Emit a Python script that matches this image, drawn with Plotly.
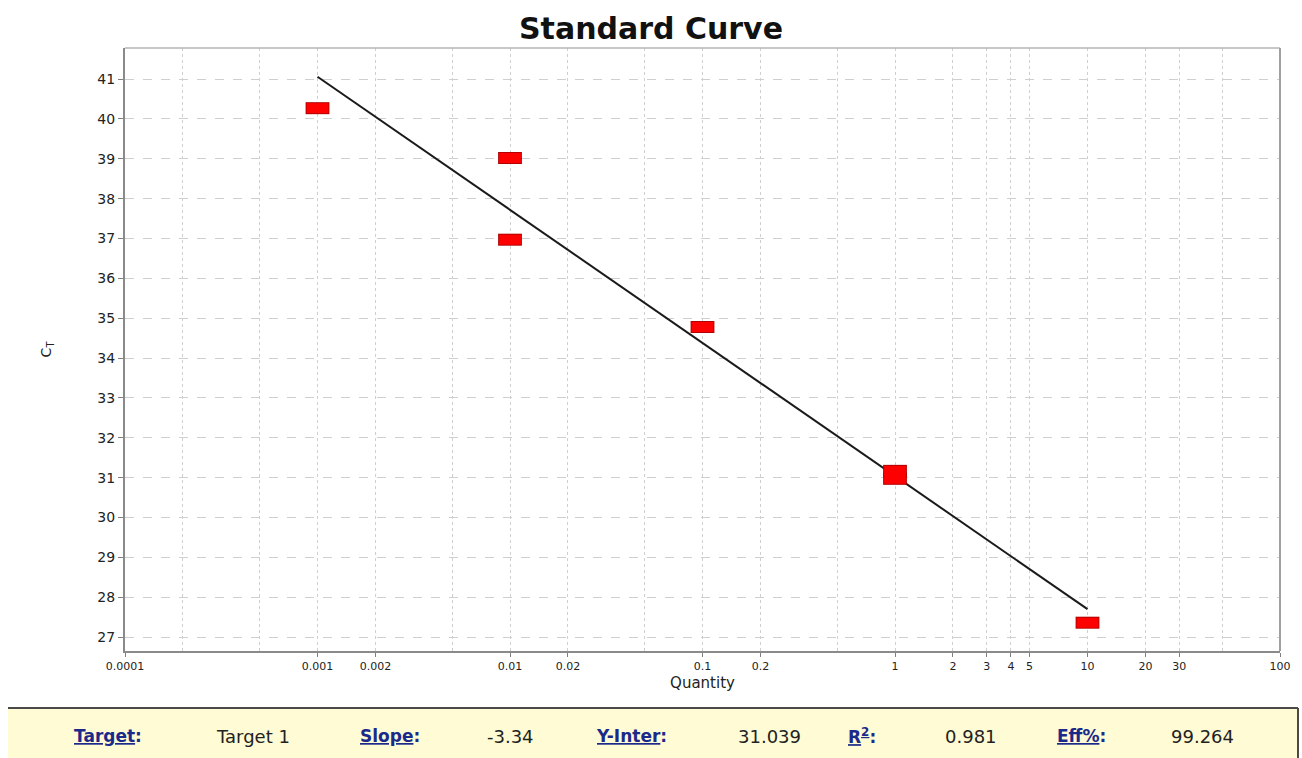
import plotly.graph_objects as go

# ---- data ----
quantity = [0.001, 0.01, 0.01, 0.1, 1, 1, 10]
ct_values = [40.27, 39.02, 36.97, 34.78, 31.17, 30.97, 27.36]
fit_x = [0.001, 10]
fit_y = [41.06, 27.70]
x_tickvals = [0.0001, 0.001, 0.002, 0.01, 0.02, 0.1, 0.2, 1, 2, 3, 4, 5, 10, 20, 30, 100]
x_ticktext = ["0.0001", "0.001", "0.002", "0.01", "0.02", "0.1", "0.2", "1", "2", "3", "4", "5", "10", "20", "30", "100"]
y_tickvals = list(range(27, 42))
stat_labels = ["Target", "Slope", "Y-Inter", "R<sup>2</sup>", "Eff%"]
stat_values = ["Target 1", "-3.34", "31.039", "0.981", "99.264"]

W, H = 1302, 758
L, R, T, B = 125, 1280, 48, 651


def px_x(p):
    return (p - L) / (R - L)


def px_y(p):
    return (B - p) / (B - T)


fig = go.Figure()

fig.add_trace(go.Scatter(
    x=fit_x, y=fit_y, mode="lines",
    line=dict(color="#1a1a1a", width=2), hoverinfo="skip", showlegend=False))

# marker outline (dark red) then fill (bright red)
fig.add_trace(go.Scatter(
    x=quantity, y=ct_values, mode="markers", showlegend=False,
    marker=dict(symbol="line-ew", size=17, line=dict(color="#b30000", width=12))))
fig.add_trace(go.Scatter(
    x=quantity, y=ct_values, mode="markers", showlegend=False,
    marker=dict(symbol="line-ew", size=15.6, line=dict(color="#ff0000", width=10))))

grid_col = "#cfcfcf"
fig.update_xaxes(
    type="log", range=[-4, 2],
    tickvals=x_tickvals, ticktext=x_ticktext,
    ticks="outside", ticklen=4, tickcolor="#808080",
    tickfont=dict(family="DejaVu Sans", size=11, color="#222"),
    showgrid=True, gridcolor=grid_col, griddash="dot", gridwidth=1,
    minor=dict(showgrid=True, gridcolor=grid_col, griddash="dot", gridwidth=1, ticks=""),
    showline=True, linecolor="#8a8a8a", linewidth=2,
    zeroline=False,
    title=dict(text="Quantity", font=dict(family="DejaVu Sans", size=15, color="#222"), standoff=5),
)
fig.update_yaxes(
    range=[26.65, 41.78],
    tickvals=y_tickvals,
    ticks="outside", ticklen=5, tickcolor="#808080",
    tickfont=dict(family="DejaVu Sans", size=14, color="#222"),
    showgrid=True, gridcolor=grid_col, griddash="dash", gridwidth=1,
    showline=True, linecolor="#8a8a8a", linewidth=2,
    zeroline=False,
    title=dict(text="C<sub>T</sub>", font=dict(family="DejaVu Sans", size=14, color="#222"), standoff=42),
)

shapes = [
    # light frame top/right
    dict(type="line", xref="paper", yref="paper", x0=0, x1=1, y0=1, y1=1,
         line=dict(color="#b5b5b5", width=1.5)),
    dict(type="line", xref="paper", yref="paper", x0=1, x1=1, y0=0, y1=1,
         line=dict(color="#a0a0a0", width=2)),
    # stats bar
    dict(type="rect", xref="paper", yref="paper", layer="below",
         x0=px_x(8), x1=px_x(1298), y0=px_y(770), y1=px_y(708),
         fillcolor="#fffbd4", line=dict(width=0)),
    dict(type="line", xref="paper", yref="paper",
         x0=px_x(8), x1=px_x(1298), y0=px_y(708), y1=px_y(708),
         line=dict(color="#4a4a4a", width=2)),
    dict(type="line", xref="paper", yref="paper",
         x0=px_x(1298), x1=px_x(1298), y0=px_y(708), y1=px_y(770),
         line=dict(color="#4a4a4a", width=2)),
]

label_centers = [108, 390, 631, 862, 1081]
value_centers = [253, 510, 769, 971, 1202]
annotations = []
for lab, cx in zip(stat_labels, label_centers):
    annotations.append(dict(
        text="<b><u>" + lab + "</u>:</b>", xref="paper", yref="paper",
        x=px_x(cx), y=px_y(736), xanchor="center", yanchor="middle", showarrow=False,
        font=dict(family="DejaVu Sans", size=17, color="#1b2a8a")))
for val, cx in zip(stat_values, value_centers):
    annotations.append(dict(
        text=val, xref="paper", yref="paper",
        x=px_x(cx), y=px_y(736), xanchor="center", yanchor="middle", showarrow=False,
        font=dict(family="DejaVu Sans", size=18, color="#222")))

fig.update_layout(
    width=W, height=H,
    margin=dict(l=L, r=W - R, t=T, b=H - B),
    paper_bgcolor="white", plot_bgcolor="white",
    title=dict(text="<b>Standard Curve</b>", x=0.5, xanchor="center",
               y=1 - 28 / H, yanchor="middle",
               font=dict(family="DejaVu Sans", size=30, color="#111")),
    shapes=shapes, annotations=annotations, showlegend=False,
)

fig.write_html("out.html", config={"displayModeBar": False},
               post_script="document.body.style.margin='0px';document.body.style.overflow='hidden';")
